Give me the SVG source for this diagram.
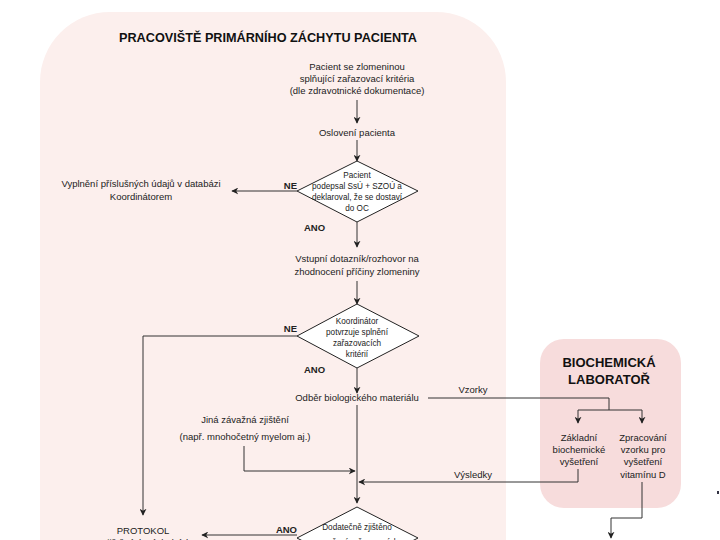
<svg xmlns="http://www.w3.org/2000/svg" width="720" height="540" viewBox="0 0 720 540">
<defs>
<marker id="ah" viewBox="0 0 10 10" refX="9" refY="5" markerWidth="7" markerHeight="7" orient="auto" markerUnits="userSpaceOnUse">
<path d="M0,0 L10,5 L0,10 L3,5 Z" fill="#222"/>
</marker>
<style>
text{font-family:"Liberation Sans",Arial,sans-serif;fill:#222;}
.t{font-size:9.5px;text-anchor:middle;}
.s{font-size:8.2px;text-anchor:middle;}
.h{font-size:13px;font-weight:bold;text-anchor:middle;fill:#111;}
.l{font-size:9.5px;font-weight:bold;}
.e{text-anchor:end;}
.c{fill:none;stroke:#333;stroke-width:1;}
.m{marker-end:url(#ah);}
.d{fill:#fff;stroke:#222;stroke-width:1;}
</style>
</defs>
<rect width="720" height="540" fill="#fff"/>
<g id="panel-primary">
<rect x="40" y="12" width="466" height="620" rx="70" ry="70" fill="#fcefed"/>
<text class="h" x="268" y="42" textLength="298" lengthAdjust="spacingAndGlyphs">PRACOVIŠTĚ PRIMÁRNÍHO ZÁCHYTU PACIENTA</text>
</g>
<g id="panel-lab">
<rect x="540" y="339" width="141" height="169" rx="24" ry="24" fill="#f7dcdc"/>
<text class="h" x="609" y="367">BIOCHEMICKÁ</text>
<text class="h" x="609" y="384">LABORATOŘ</text>
</g>
<g id="n-start">
<text class="t" x="357" y="70">Pacient se zlomeninou</text>
<text class="t" x="357" y="82">splňující zařazovací kritéria</text>
<text class="t" x="357" y="94">(dle zdravotnické dokumentace)</text>
</g>
<g id="n-osloveni">
<text class="t" x="357" y="136">Oslovení pacienta</text>
</g>
<g id="n-d1">
<polygon class="d" points="357,161 418,191 357,222 297,191"/>
<text class="s" x="357" y="178">Pacient</text>
<text class="s" x="357" y="189">podepsal SsÚ + SZOÚ a</text>
<text class="s" x="357" y="200">deklaroval, že se dostaví</text>
<text class="s" x="357" y="211">do OC</text>
</g>
<g id="n-vyplneni">
<text class="t" x="141" y="187">Vyplnění příslušných údajů v databázi</text>
<text class="t" x="141" y="200">Koordinátorem</text>
</g>
<g id="n-vstupni">
<text class="t" x="357" y="262">Vstupní dotazník/rozhovor na</text>
<text class="t" x="357" y="275">zhodnocení příčiny zlomeniny</text>
</g>
<g id="n-d2">
<polygon class="d" points="357,304 419,336 357,368 297,336"/>
<text class="s" x="357" y="324">Koordinátor</text>
<text class="s" x="357" y="335">potvrzuje splnění</text>
<text class="s" x="357" y="346">zařazovacích</text>
<text class="s" x="357" y="357">kritérií</text>
</g>
<g id="n-odber">
<text class="t" x="357" y="401">Odběr biologického materiálu</text>
</g>
<g id="n-jina">
<text class="t" x="245" y="423">Jiná závažná zjištění</text>
<text class="t" x="245" y="440">(např. mnohočetný myelom aj.)</text>
</g>
<g id="n-zakladni">
<text class="t" x="579" y="441">Základní</text>
<text class="t" x="579" y="453">biochemické</text>
<text class="t" x="579" y="465">vyšetření</text>
</g>
<g id="n-zpracovani">
<text class="t" x="643" y="441">Zpracování</text>
<text class="t" x="643" y="453">vzorku pro</text>
<text class="t" x="643" y="465">vyšetření</text>
<text class="t" x="643" y="478">vitamínu D</text>
</g>
<g id="n-d3">
<polygon class="d" points="357,507 418,538 357,569 297,538"/>
<text class="s" x="357" y="530">Dodatečně zjištěno</text>
<text class="s" x="357" y="545">porušení zařazovacích</text>
</g>
<g id="n-protokol">
<text class="t" x="143" y="534">PROTOKOL</text>
<text class="t" x="143" y="546">o zjištěných výsledcích</text>
</g>
<g id="connectors">
<line class="c m" x1="357" y1="100" x2="357" y2="123"/>
<line class="c m" x1="357" y1="140" x2="357" y2="161"/>
<line class="c m" x1="297" y1="191" x2="232" y2="191"/>
<line class="c m" x1="357" y1="222" x2="357" y2="247"/>
<line class="c m" x1="357" y1="281" x2="357" y2="304"/>
<polyline class="c m" points="297,336 143,336 143,515"/>
<line class="c m" x1="357" y1="368" x2="357" y2="393"/>
<polyline class="c" points="428,398 609,398 609,410"/>
<polyline class="c m" points="609,410 578,410 578,423"/>
<polyline class="c m" points="609,410 642,410 642,423"/>
<line class="c m" x1="357" y1="405" x2="357" y2="503"/>
<polyline class="c m" points="244,446 244,471 355,471"/>
<polyline class="c m" points="578,469 578,482 359,482"/>
<polyline class="c m" points="642,482 642,518 611,518 611,538"/>
<line class="c m" x1="297" y1="535" x2="202" y2="535"/>
<text class="l e" x="297" y="189">NE</text>
<text class="l" x="304" y="231">ANO</text>
<text class="l e" x="297" y="332">NE</text>
<text class="l" x="304" y="373">ANO</text>
<text class="l e" x="297" y="533">ANO</text>
<text class="t" x="473" y="393">Vzorky</text>
<text class="t" x="473" y="478">Výsledky</text>
</g>
<rect x="717" y="491" width="2" height="3" fill="#334"/>
</svg>
